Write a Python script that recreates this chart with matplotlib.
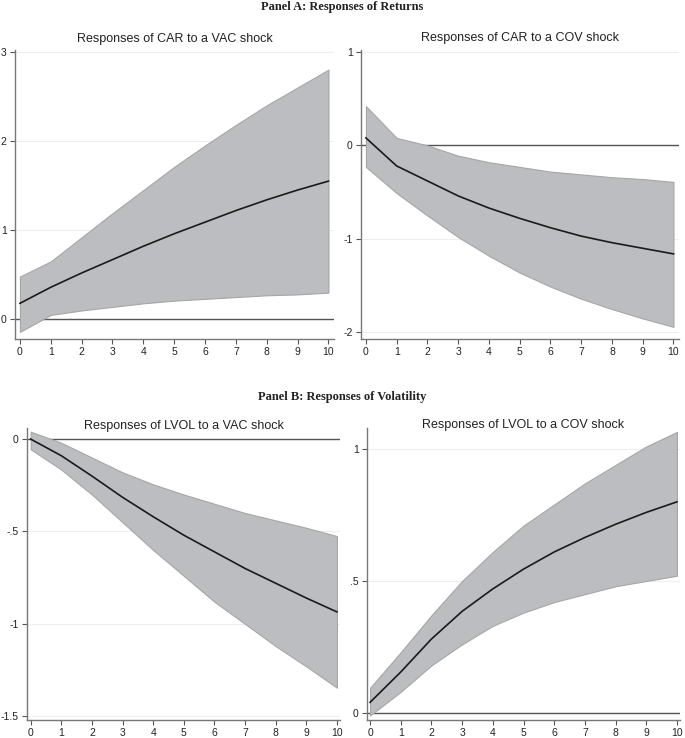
import matplotlib
matplotlib.use("Agg")
import matplotlib.pyplot as plt

steps = list(range(11))

# Panel A: responses of CAR
car_vac = [0.18, 0.36, 0.52, 0.67, 0.82, 0.96, 1.09, 1.22, 1.34, 1.45, 1.55]
car_vac_hi = [0.48, 0.65, 0.92, 1.19, 1.45, 1.71, 1.95, 2.18, 2.40, 2.60, 2.80]
car_vac_lo = [-0.14, 0.05, 0.10, 0.14, 0.18, 0.21, 0.23, 0.25, 0.27, 0.28, 0.30]

car_cov = [0.08, -0.22, -0.38, -0.54, -0.67, -0.78, -0.88, -0.97, -1.04, -1.10, -1.16]
car_cov_hi = [0.42, 0.08, 0.00, -0.11, -0.18, -0.23, -0.28, -0.31, -0.34, -0.36, -0.39]
car_cov_lo = [-0.23, -0.51, -0.75, -0.98, -1.18, -1.36, -1.51, -1.64, -1.75, -1.85, -1.94]

# Panel B: responses of LVOL
lvol_vac = [0.0, -0.09, -0.20, -0.315, -0.42, -0.52, -0.61, -0.70, -0.78, -0.86, -0.935]
lvol_vac_hi = [0.04, -0.02, -0.10, -0.18, -0.245, -0.30, -0.35, -0.40, -0.44, -0.48, -0.525]
lvol_vac_lo = [-0.055, -0.165, -0.30, -0.45, -0.60, -0.74, -0.88, -1.00, -1.12, -1.23, -1.345]

lvol_cov = [0.04, 0.155, 0.28, 0.385, 0.47, 0.545, 0.61, 0.665, 0.715, 0.76, 0.80]
lvol_cov_hi = [0.095, 0.23, 0.37, 0.50, 0.61, 0.71, 0.79, 0.87, 0.94, 1.01, 1.065]
lvol_cov_lo = [-0.01, 0.08, 0.18, 0.26, 0.33, 0.38, 0.42, 0.45, 0.48, 0.50, 0.52]

W, H = 685, 738
fig = plt.figure(figsize=(W / 100, H / 100), dpi=100)
fig.patch.set_facecolor("white")


def box(x0, y0, x1, y1):
    # pixel box -> figure fraction
    return [x0 / W, 1 - y1 / H, (x1 - x0) / W, (y1 - y0) / H]


def irf_panel(rect, title, title_y, mean, hi, lo, yticks, ylabels, ylim, xlim):
    ax = fig.add_axes(rect)
    ax.axhline(0, color="#555555", lw=1.0, zorder=1)
    ax.fill_between(steps, lo, hi, facecolor="#bcbdc0", edgecolor="#a6a6a6", lw=0.8, zorder=2)
    ax.plot(steps, mean, color="#1a1a1a", lw=1.2, zorder=3)
    ax.set_xlim(*xlim)
    ax.set_ylim(*ylim)
    ax.set_xticks(steps)
    ax.set_yticks(yticks)
    ax.set_yticklabels(ylabels)
    for t in yticks:
        ax.axhline(t, color="#eeeeee", lw=0.8, zorder=0)
    for s in ["top", "right"]:
        ax.spines[s].set_visible(False)
    for s in ["left", "bottom"]:
        ax.spines[s].set_color("#777777")
        ax.spines[s].set_linewidth(1.0)
    ax.tick_params(axis="both", length=3.5, width=0.8, color="#555555", labelsize=7.5,
                   labelcolor="#222222", pad=2.5)
    for lab in ax.get_xticklabels() + ax.get_yticklabels():
        lab.set_fontfamily("Liberation Sans")
    cx = (rect[0] + rect[0] + rect[2]) / 2
    fig.text(cx, 1 - title_y / H, title, ha="center", va="center", fontsize=9,
             color="#222222", fontfamily="Liberation Sans")
    return ax


irf_panel(box(15, 50, 334, 339), "Responses of CAR to a VAC shock", 39,
          car_vac, car_vac_hi, car_vac_lo,
          [0, 1, 2, 3], ["0", "1", "2", "3"], (-0.22, 3.02), (-0.16, 10.18))
irf_panel(box(361, 50, 679, 339), "Responses of CAR to a COV shock", 38,
          car_cov, car_cov_hi, car_cov_lo,
          [-2, -1, 0, 1], ["-2", "-1", "0", "1"], (-2.07, 1.02), (-0.16, 10.18))
irf_panel(box(27, 428, 340, 720), "Responses of LVOL to a VAC shock", 426,
          lvol_vac, lvol_vac_hi, lvol_vac_lo,
          [-1.5, -1, -0.5, 0], ["-1.5", "-1", "-.5", "0"], (-1.52, 0.06), (-0.12, 10.1))
irf_panel(box(367, 428, 680, 720), "Responses of LVOL to a COV shock", 425,
          lvol_cov, lvol_cov_hi, lvol_cov_lo,
          [0, 0.5, 1], ["0", ".5", "1"], (-0.027, 1.08), (-0.1, 10.1))

fig.text(0.5, 1 - 7 / H, "Panel A: Responses of Returns", ha="center", va="center",
         fontsize=9, fontweight="bold", fontfamily="Liberation Serif", color="#222222")
fig.text(0.5, 1 - 397 / H, "Panel B: Responses of Volatility", ha="center", va="center",
         fontsize=9, fontweight="bold", fontfamily="Liberation Serif", color="#222222")

fig.savefig("out.png", dpi=100)
